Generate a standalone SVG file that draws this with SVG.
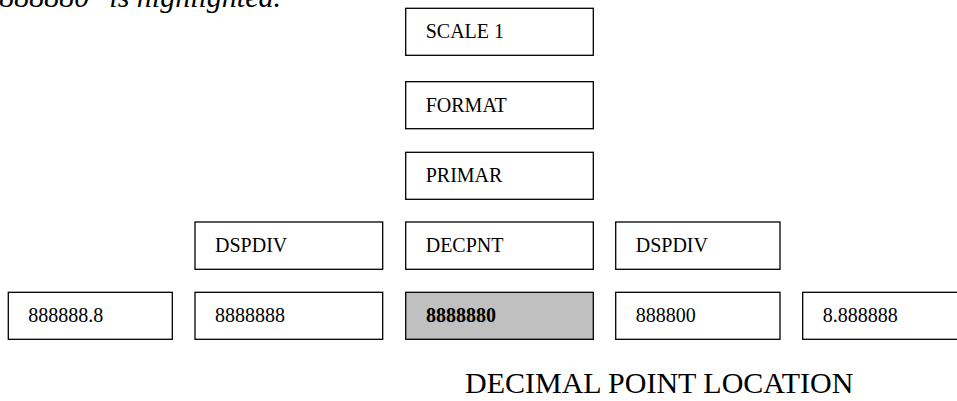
<svg xmlns="http://www.w3.org/2000/svg" width="957" height="401" viewBox="0 0 957 401">
<style>
.box{fill:#fff;stroke:#000;stroke-width:1.3}
.hl{fill:#c0c0c0;stroke:#000;stroke-width:1.3}
.t{font-family:"Liberation Serif","Times New Roman",serif;font-size:20px;fill:#000}
.b{font-weight:bold}
.title{font-family:"Liberation Serif","Times New Roman",serif;font-size:30px;fill:#000}
.cap{font-family:"Liberation Serif","Times New Roman",serif;font-size:30px;font-style:italic;fill:#000}
</style>
<rect width="957" height="401" fill="#fff"/>
<text class="cap" x="281" y="6.5" text-anchor="end">888880" is highlighted.</text>
<g id="connectors"></g>
<g id="scale1"><rect class="box" x="405.7" y="8.3" width="187.6" height="47"/><text class="t" x="425.7" y="38.3">SCALE 1</text></g>
<g id="format"><rect class="box" x="405.7" y="81.7" width="187.6" height="47"/><text class="t" x="425.7" y="111.7">FORMAT</text></g>
<g id="primar"><rect class="box" x="405.7" y="152.3" width="187.6" height="47"/><text class="t" x="425.7" y="182.3">PRIMAR</text></g>
<g id="dspdiv-left"><rect class="box" x="195" y="222" width="187.7" height="47.3"/><text class="t" x="215" y="252">DSPDIV</text></g>
<g id="decpnt"><rect class="box" x="405.7" y="222" width="187.6" height="47.3"/><text class="t" x="425.7" y="252">DECPNT</text></g>
<g id="dspdiv-right"><rect class="box" x="615.7" y="222" width="164.3" height="47.3"/><text class="t" x="635.7" y="252">DSPDIV</text></g>
<g id="v1"><rect class="box" x="8.3" y="292.3" width="164" height="47"/><text class="t" x="28.3" y="322.3">888888.8</text></g>
<g id="v2"><rect class="box" x="195" y="292.3" width="187.7" height="47"/><text class="t" x="215" y="322.3">8888888</text></g>
<g id="v3"><rect class="hl" x="405.7" y="292.3" width="187.6" height="47"/><text class="t b" x="426" y="322.3">8888880</text></g>
<g id="v4"><rect class="box" x="615.7" y="292.3" width="164.3" height="47"/><text class="t" x="635.7" y="322.3">888800</text></g>
<g id="v5"><rect class="box" x="802.7" y="292.3" width="190" height="47"/><text class="t" x="822.7" y="322.3">8.888888</text></g>
<text class="title" x="465" y="393.3">DECIMAL POINT LOCATION</text>
</svg>
